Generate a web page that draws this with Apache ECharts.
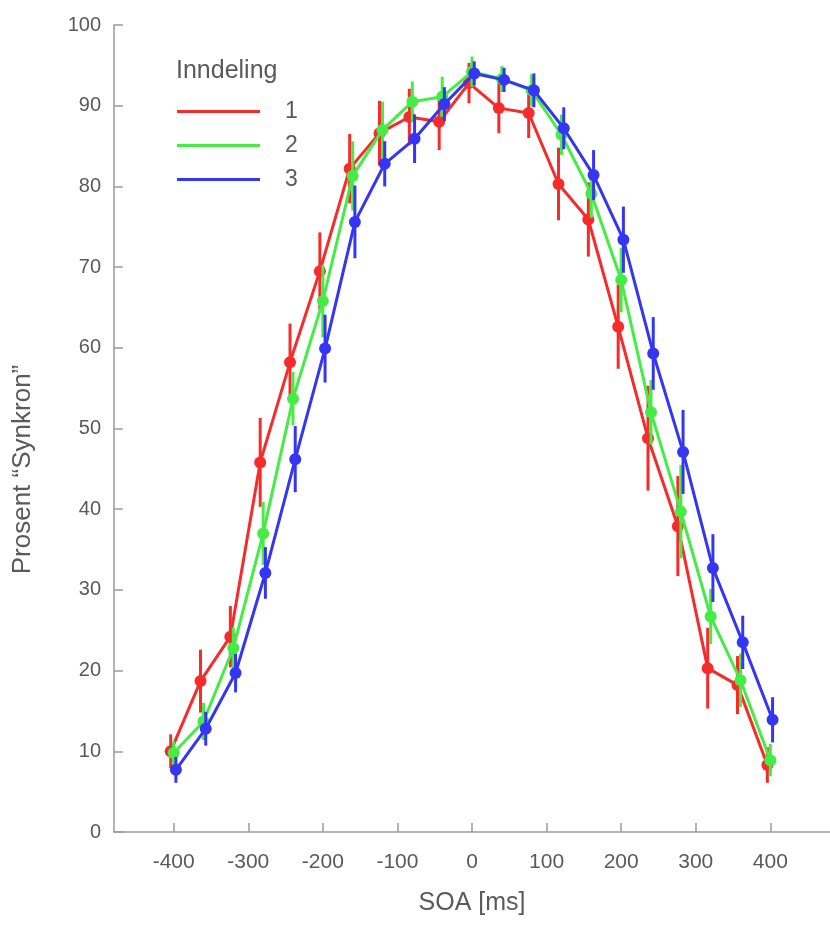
<!DOCTYPE html>
<html>
<head>
<meta charset="utf-8">
<script src="https://cdn.jsdelivr.net/npm/echarts@6/dist/echarts.min.js"></script>
<style>
html,body{margin:0;padding:0;background:#fff;}
#chart{width:830px;height:931px;}
</style>
</head>
<body>
<div id="chart"></div>
<script>
// ---- data ----
const soa = [-400,-360,-320,-280,-240,-200,-160,-120,-80,-40,0,40,80,120,160,200,240,280,320,360,400];
const xTicks = [-400,-300,-200,-100,0,100,200,300,400];
const seriesNames = ['1','2','3'];
const red   = [10.0,18.7,24.2,45.8,58.2,69.5,82.2,86.6,88.6,88.0,92.8,89.7,89.1,80.3,75.9,62.6,48.8,37.9,20.3,18.2,8.3];
const green = [9.8,13.7,22.8,37.0,53.7,65.8,81.3,87.0,90.5,91.1,94.2,93.3,91.9,86.4,79.1,68.4,52.0,39.7,26.7,18.8,8.9];
const blue  = [7.7,12.8,19.7,32.1,46.2,59.9,75.6,82.8,85.9,90.2,94.0,93.2,91.9,87.2,81.4,73.4,59.3,47.1,32.7,23.5,13.9];
const redErr   = [2.1,3.9,3.8,5.5,4.8,4.8,4.3,4.0,3.5,3.5,2.5,3.1,3.1,4.5,4.6,5.2,6.5,6.2,5.0,3.6,2.2];
const greenErr = [1.5,2.3,2.5,3.9,3.3,4.5,4.3,3.5,2.5,2.5,1.9,1.6,2.0,2.5,3.0,4.0,4.0,5.8,3.4,3.3,2.0];
const blueErr  = [1.6,2.1,2.4,3.2,4.1,4.2,4.5,2.8,3.0,2.1,1.5,1.5,2.1,2.6,3.1,4.1,4.5,5.2,4.2,3.3,2.8];

// ---- style ----
const colors = ['#f62b2b', '#45ec45', '#3535f4'];
const dodge = [-4, 0, 3]; // small horizontal separation of series (style)
const textColor = '#5a5a5a';
const axisColor = '#9a9a9a';
const FONT = '"Liberation Sans", Arial, Helvetica, sans-serif';

const values = [red, green, blue];
const errs = [redErr, greenErr, blueErr];

const series = [];
values.forEach((vals, i) => {
  const pts = soa.map((x, j) => [x + dodge[i], vals[j], errs[i][j]]);
  series.push({
    type: 'line',
    name: seriesNames[i],
    data: pts.map(p => [p[0], p[1]]),
    z: 3 + i * 2,
    symbol: 'circle',
    symbolSize: 12,
    showAllSymbol: true,
    color: colors[i],
    lineStyle: {color: colors[i], width: 3},
    itemStyle: {color: colors[i]},
    animation: false
  });
  series.push({
    type: 'custom',
    name: seriesNames[i],
    data: pts,
    z: 2 + i * 2,
    silent: true,
    color: colors[i],
    itemStyle: {color: colors[i]},
    renderItem: (params, api) => {
      const x = api.value(0), y = api.value(1), e = api.value(2);
      const p1 = api.coord([x, y - e]);
      const p2 = api.coord([x, y + e]);
      return {
        type: 'line',
        shape: {x1: p1[0], y1: p1[1], x2: p2[0], y2: p2[1]},
        style: {stroke: colors[i], lineWidth: 3}
      };
    },
    encode: {x: 0, y: [1]}
  });
});

const chart = echarts.init(document.getElementById('chart'), null, {renderer: 'canvas'});
chart.setOption({
  animation: false,
  backgroundColor: '#fff',
  textStyle: {fontFamily: FONT},
  title: {
    text: 'Inndeling',
    left: 171, top: 54,
    textStyle: {fontFamily: FONT, fontSize: 25, fontWeight: 'normal', color: textColor}
  },
  legend: {
    data: seriesNames.map((n, i) => ({name: n, itemStyle: {color: colors[i]}})),
    orient: 'vertical',
    left: 172, top: 95,
    icon: 'rect',
    itemWidth: 83, itemHeight: 3,
    itemGap: 11,
    textStyle: {fontFamily: FONT, fontSize: 23, color: textColor, padding: [0,0,0,20]},
    selectedMode: false
  },
  grid: {left: 114, top: 25, bottom: 99, right: -7, containLabel: false},
  xAxis: {
    type: 'value',
    min: -480, max: 480,
    name: 'SOA [ms]',
    nameLocation: 'middle',
    nameGap: 59,
    nameTextStyle: {fontFamily: FONT, fontSize: 25, color: textColor},
    axisLine: {show: true, onZero: false, lineStyle: {color: axisColor, width: 1.5}},
    axisTick: {show: true, inside: true, length: 9, customValues: xTicks, lineStyle: {color: axisColor, width: 1.5}},
    axisLabel: {customValues: xTicks, fontFamily: FONT, fontSize: 21, color: textColor, margin: 20},
    splitLine: {show: false}
  },
  yAxis: {
    type: 'value',
    min: 0, max: 100, interval: 10,
    name: 'Prosent \u201cSynkron\u201d',
    nameLocation: 'middle',
    nameGap: 78,
    nameTextStyle: {fontFamily: FONT, fontSize: 26, color: textColor, padding: [0, 82, 0, 0]},
    axisLine: {show: true, onZero: false, lineStyle: {color: axisColor, width: 1.5}},
    axisTick: {show: true, inside: true, length: 9, lineStyle: {color: axisColor, width: 1.5}},
    axisLabel: {fontFamily: FONT, fontSize: 20, color: textColor, margin: 13},
    splitLine: {show: false}
  },
  series: series
});
</script>
</body>
</html>
